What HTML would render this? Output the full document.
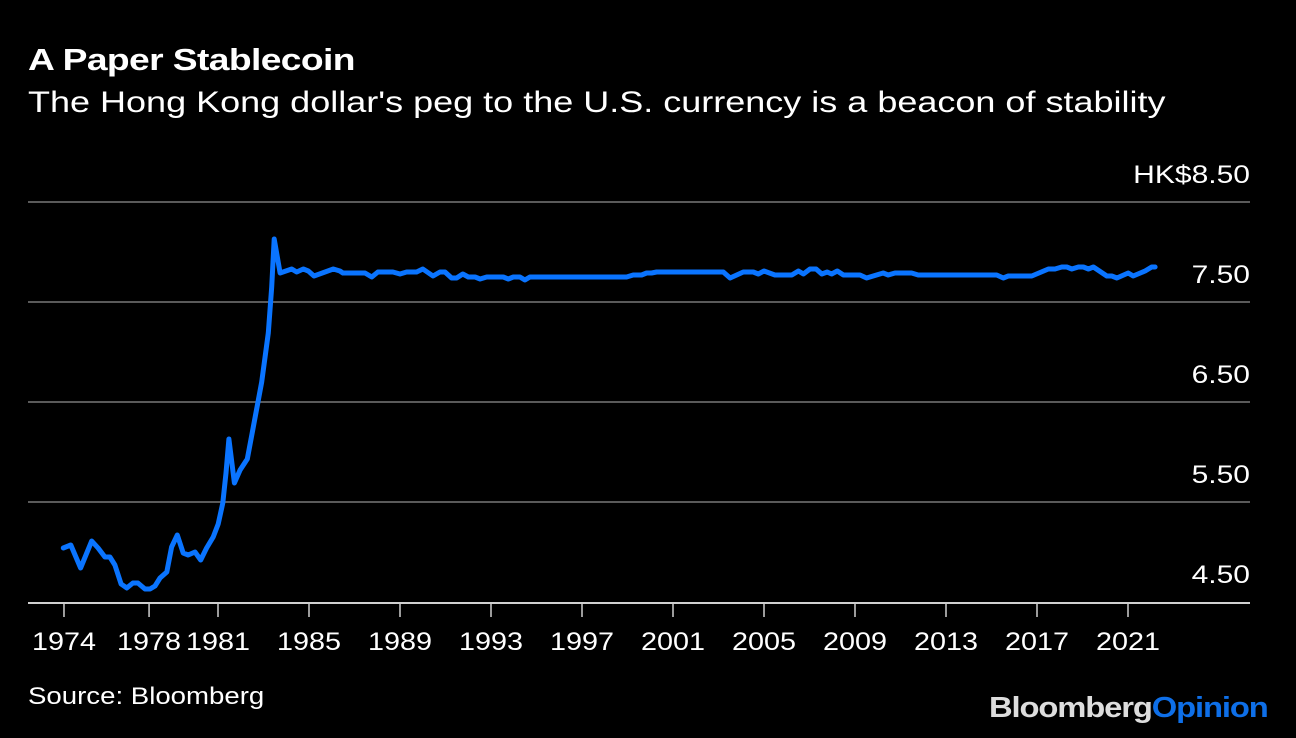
<!DOCTYPE html>
<html><head><meta charset="utf-8"><style>
body{margin:0;background:#000;width:1296px;height:738px;overflow:hidden;font-family:"Liberation Sans",sans-serif;color:#fff}
.t{position:absolute;white-space:nowrap}
</style></head><body>
<div class="t" style="left:28px;top:42px;font-size:31px;font-weight:bold;letter-spacing:-0.5px;transform:scaleX(1.2);transform-origin:left">A Paper Stablecoin</div>
<div class="t" style="left:28px;top:86px;font-size:30px;transform:scaleX(1.2);transform-origin:left">The Hong Kong dollar's peg to the U.S. currency is a beacon of stability</div>
<svg id="chart" width="1296" height="738" style="position:absolute;left:0;top:0"></svg>
<div class="t" style="left:28px;top:683px;font-size:24px;transform:scaleX(1.15);transform-origin:left">Source: Bloomberg</div>
<div class="t" style="right:28px;top:692px;font-size:29px;font-weight:bold;letter-spacing:-1px;transform:scaleX(1.13);transform-origin:right"><span style="color:#ddd">Bloomberg</span><span style="color:#0e6fe8">Opinion</span></div>
<script>
const years=[1974.20,1974.53,1974.96,1975.45,1975.73,1976.03,1976.25,1976.47,1976.74,1976.99,1977.26,1977.48,1977.79,1978.01,1978.23,1978.45,1978.75,1978.96,1979.21,1979.47,1979.69,1979.99,1980.24,1980.50,1980.79,1981.01,1981.21,1981.35,1981.48,1981.72,1981.97,1982.29,1982.55,1982.92,1983.21,1983.36,1983.47,1983.73,1984.24,1984.46,1984.75,1984.97,1985.22,1986.07,1986.36,1986.49,1987.46,1987.76,1988.03,1988.69,1989.00,1989.29,1989.73,1990.00,1990.45,1990.76,1990.98,1991.27,1991.49,1991.76,1992.00,1992.30,1992.52,1992.81,1993.54,1993.76,1993.98,1994.27,1994.49,1994.71,1998.96,1999.25,1999.62,1999.84,2000.06,2000.28,2003.21,2003.51,2003.80,2004.09,2004.53,2004.75,2005.00,2005.48,2006.22,2006.51,2006.73,2007.02,2007.29,2007.54,2007.78,2007.97,2008.22,2008.49,2009.22,2009.51,2009.80,2010.24,2010.46,2010.76,2011.49,2011.78,2015.23,2015.52,2015.74,2016.77,2017.50,2017.79,2018.09,2018.31,2018.53,2018.82,2019.04,2019.26,2019.48,2020.07,2020.29,2020.51,2021.01,2021.23,2021.75,2022.04,2022.19];
const rates=[5.04,5.07,4.84,5.11,5.04,4.95,4.95,4.87,4.68,4.64,4.69,4.69,4.63,4.63,4.66,4.74,4.80,5.05,5.17,4.99,4.97,5.00,4.92,5.04,5.15,5.28,5.49,5.79,6.13,5.69,5.82,5.93,6.25,6.70,7.19,7.65,8.13,7.79,7.83,7.80,7.83,7.81,7.76,7.83,7.81,7.79,7.79,7.75,7.80,7.80,7.78,7.80,7.80,7.83,7.76,7.80,7.80,7.74,7.74,7.78,7.75,7.75,7.73,7.75,7.75,7.73,7.75,7.75,7.72,7.75,7.75,7.77,7.77,7.79,7.79,7.80,7.80,7.74,7.77,7.80,7.80,7.78,7.81,7.77,7.77,7.81,7.78,7.83,7.83,7.78,7.80,7.78,7.81,7.77,7.77,7.74,7.76,7.79,7.77,7.79,7.79,7.77,7.77,7.74,7.76,7.76,7.83,7.83,7.85,7.85,7.83,7.85,7.85,7.83,7.85,7.76,7.76,7.74,7.79,7.76,7.81,7.85,7.85];
const yTicks=[4.5,5.5,6.5,7.5,8.5];
const yTickLabels=["4.50","5.50","6.50","7.50","HK$8.50"];
const xTicks=[1974.23,1977.97,1981,1985,1989,1993,1997,2001,2005,2009,2013,2017,2021];
const xTickLabels=["1974","1978","1981","1985","1989","1993","1997","2001","2005","2009","2013","2017","2021"];
const X=y=>309+(y-1985)*22.75;
const Y=v=>602-(v-4.5)*100;
const svg=document.getElementById('chart');
const NS='http://www.w3.org/2000/svg';
function mk(tag,attrs){const e=document.createElementNS(NS,tag);for(const k in attrs)e.setAttribute(k,attrs[k]);svg.appendChild(e);return e;}
function widen(t,f){const w=t.getComputedTextLength();t.setAttribute('textLength',(w*f).toFixed(1));t.setAttribute('lengthAdjust','spacingAndGlyphs');}
yTicks.forEach((v,i)=>{
  if(i>0){const g=mk('line',{x1:28,x2:1250,y1:Y(v),y2:Y(v),stroke:'#5a5a5a','stroke-width':2});
  
  }
  const t=mk('text',{x:1250,y:Y(v)-19,'text-anchor':'end',fill:'#fff','font-size':25,'font-family':'Liberation Sans, sans-serif'});
  t.textContent=yTickLabels[i];
  
  
  widen(t,1.2);
});
const ax=mk('line',{x1:28,x2:1250,y1:603,y2:603,stroke:'#d0d0d0','stroke-width':2});


xTicks.forEach((y,i)=>{
  const tk=mk('line',{x1:X(y),x2:X(y),y1:603,y2:617,stroke:'#d0d0d0','stroke-width':1.5});
  
  
  const t=mk('text',{x:X(y),y:650,'text-anchor':'middle',fill:'#fff','font-size':25,'font-family':'Liberation Sans, sans-serif'});
  t.textContent=xTickLabels[i];
  
  
  widen(t,1.15);
});
const d=years.map((y,i)=>(i?'L':'M')+X(y).toFixed(1)+','+Y(rates[i]).toFixed(1)).join('');
const p=mk('path',{d:d,fill:'none',stroke:'#0a74ff','stroke-width':5,'stroke-linejoin':'round','stroke-linecap':'round'});


</script>
</body></html>
